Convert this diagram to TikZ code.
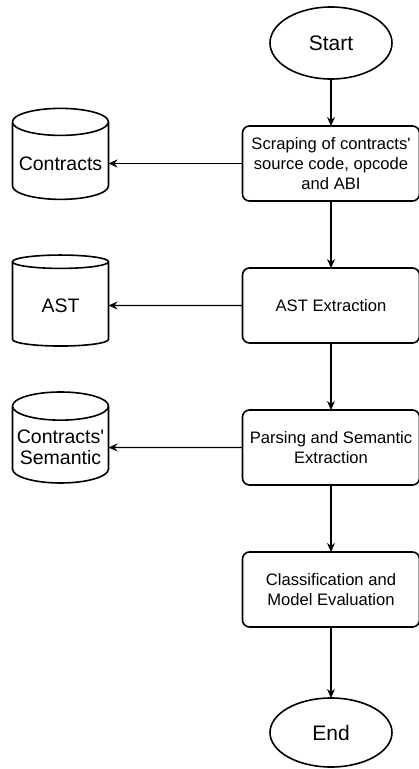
\documentclass[tikz,border=0pt]{standalone}
\usepackage{fontspec}
\setmainfont{Liberation Sans}
\usetikzlibrary{positioning, shapes.geometric, arrows.meta}
\hyphenpenalty=10000
\exhyphenpenalty=10000

\begin{document}
\begin{tikzpicture}[
    x=1pt, y=1pt,
    flowarrow/.style={-{Stealth[length=9pt, width=8pt, inset=3pt]}, line width=1.1pt},
    process/.style={rectangle, draw, rounded corners=7pt, line width=1.6pt, outer sep=0pt,
        minimum width=177pt, minimum height=75pt, align=center,
        font=\fontsize{16.6}{20}\selectfont},
    terminal/.style={ellipse, draw, line width=1.6pt, outer sep=0pt,
        minimum width=122pt, minimum height=72pt,
        font=\fontsize{21}{24}\selectfont},
    datastore/.style={cylinder, shape border rotate=90, draw, line width=1.6pt, outer sep=0pt,
        aspect=0.3, minimum width=96pt, minimum height=91pt, align=center,
        font=\fontsize{19.5}{21}\selectfont}
]
\useasboundingbox (0,0) rectangle (419,-769);

% Main flow
\node[terminal] (start) at (331,-43) {Start};
\node[process, below=47pt of start] (scrape) {Scraping of contracts\textquotesingle\\source code, opcode\\and ABI};
\node[process, below=67pt of scrape] (ast) {AST Extraction};
\node[process, below=67pt of ast] (parse) {Parsing and Semantic\\Extraction};
\node[process, below=67pt of parse] (classify) {Classification and\\Model Evaluation};
\node[terminal, minimum height=69pt, below=71pt of classify] (end) {End};

% Data stores
\node[datastore, left=134pt of scrape] (contracts) {Contracts};
\node[datastore, left=134pt of ast] (astdb) {AST};
\node[datastore, left=134pt of parse] (semantic) {Contracts\textquotesingle\\Semantic};

% Edges
\draw[flowarrow] (start) -- (scrape);
\draw[flowarrow] (scrape) -- (ast);
\draw[flowarrow] (ast) -- (parse);
\draw[flowarrow] (parse) -- (classify);
\draw[flowarrow] (classify) -- (end);
\draw[flowarrow] (scrape) -- (contracts);
\draw[flowarrow] (ast) -- (astdb);
\draw[flowarrow] (parse) -- (semantic);

\end{tikzpicture}
\end{document}
